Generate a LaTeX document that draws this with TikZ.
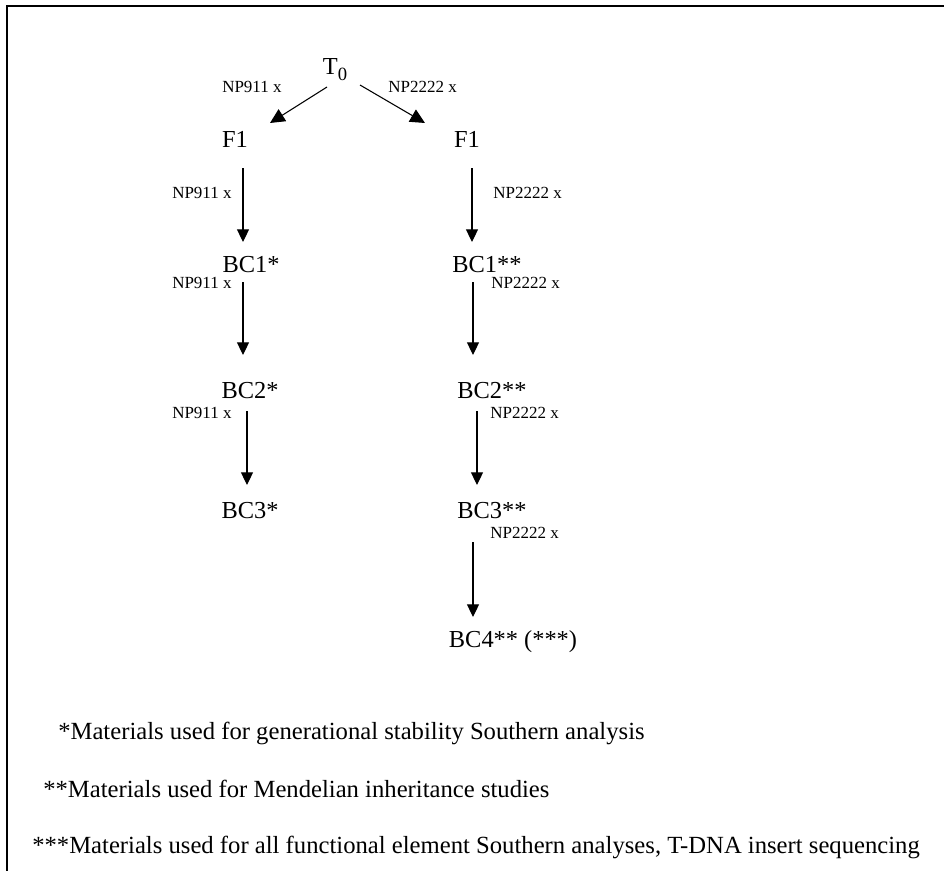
\documentclass[tikz,border=0pt]{standalone}
\usepackage{fontspec}
\setmainfont{Liberation Serif}
\usetikzlibrary{arrows.meta}

\tikzset{
  gen/.style={inner sep=0pt, anchor=base, font=\fontsize{18.3pt}{20pt}\selectfont},
  cross/.style={inner sep=0pt, anchor=base west, font=\fontsize{12.75pt}{14pt}\selectfont},
  note/.style={inner sep=0pt, anchor=base west, font=\fontsize{18.5pt}{20pt}\selectfont},
  arr/.style={draw=black, line width=0.8pt, -{Triangle[length=9.5pt,width=9pt]}},
  bigarr/.style={arr, -{Triangle[length=11pt,width=10.5pt]}},
  frame/.style={draw=black, line width=1.4pt}
}

\begin{document}
\begin{tikzpicture}[x=0.75pt,y=-0.75pt]
\useasboundingbox (0,0) rectangle (944,870);
\clip (0,0) rectangle (944,870);

% open frame (right and bottom sides fall outside the page)
\draw[frame] (7,6) rectangle (980,900);

% generations
\node[gen] (t0)   at (335,75)  {T\raisebox{-0.22em}{\fontsize{14pt}{14pt}\selectfont 0}};
\node[gen] (f1l)  at (235,147) {F1};
\node[gen] (f1r)  at (467,147) {F1};
\node[gen] (bc1l) at (251,272) {BC1*};
\node[gen] (bc1r) at (487,272) {BC1**};
\node[gen] (bc2l) at (250,398) {BC2*};
\node[gen] (bc2r) at (492,398) {BC2**};
\node[gen] (bc3l) at (250,518) {BC3*};
\node[gen] (bc3r) at (492,518) {BC3**};
\node[gen] (bc4r) at (513,647) {BC4** (***)};

% cross labels
\node[cross] (c1l) at (222,93)  {NP911 x};
\node[cross] (c1r) at (388,93)  {NP2222 x};
\node[cross] (c2l) at (172,198) {NP911 x};
\node[cross] (c2r) at (493,198) {NP2222 x};
\node[cross] (c3l) at (172,288) {NP911 x};
\node[cross] (c3r) at (491,288) {NP2222 x};
\node[cross] (c4l) at (172,418) {NP911 x};
\node[cross] (c4r) at (490,418) {NP2222 x};
\node[cross] (c5r) at (490,538) {NP2222 x};

% crosses
\draw[bigarr] ([shift={(-8,12)}]t0.base)   -- ([shift={(35,-24)}]f1l.base);
\draw[bigarr] ([shift={(25,10)}]t0.base)   -- ([shift={(-42,-24)}]f1r.base);
\draw[arr] ([shift={(8,21)}]f1l.base)   -- ([shift={(-8,-30)}]bc1l.base);
\draw[arr] ([shift={(5,21)}]f1r.base)   -- ([shift={(-15,-30)}]bc1r.base);
\draw[arr] ([shift={(-8,10)}]bc1l.base) -- ([shift={(-7,-43)}]bc2l.base);
\draw[arr] ([shift={(-14,10)}]bc1r.base) -- ([shift={(-19,-43)}]bc2r.base);
\draw[arr] ([shift={(-3,13)}]bc2l.base) -- ([shift={(-3,-33)}]bc3l.base);
\draw[arr] ([shift={(-15,13)}]bc2r.base) -- ([shift={(-15,-33)}]bc3r.base);
\draw[arr] ([shift={(-19,24)}]bc3r.base) -- ([shift={(-40,-30)}]bc4r.base);

% footnotes
\node[note] (n1) at (58,739) {*Materials used for generational stability Southern analysis};
\node[note] (n2) at (43,797) {**Materials used for Mendelian inheritance studies};
\node[note] (n3) at (32,853) {***Materials used for all functional element Southern analyses, T-DNA insert sequencing};
\end{tikzpicture}
\end{document}
